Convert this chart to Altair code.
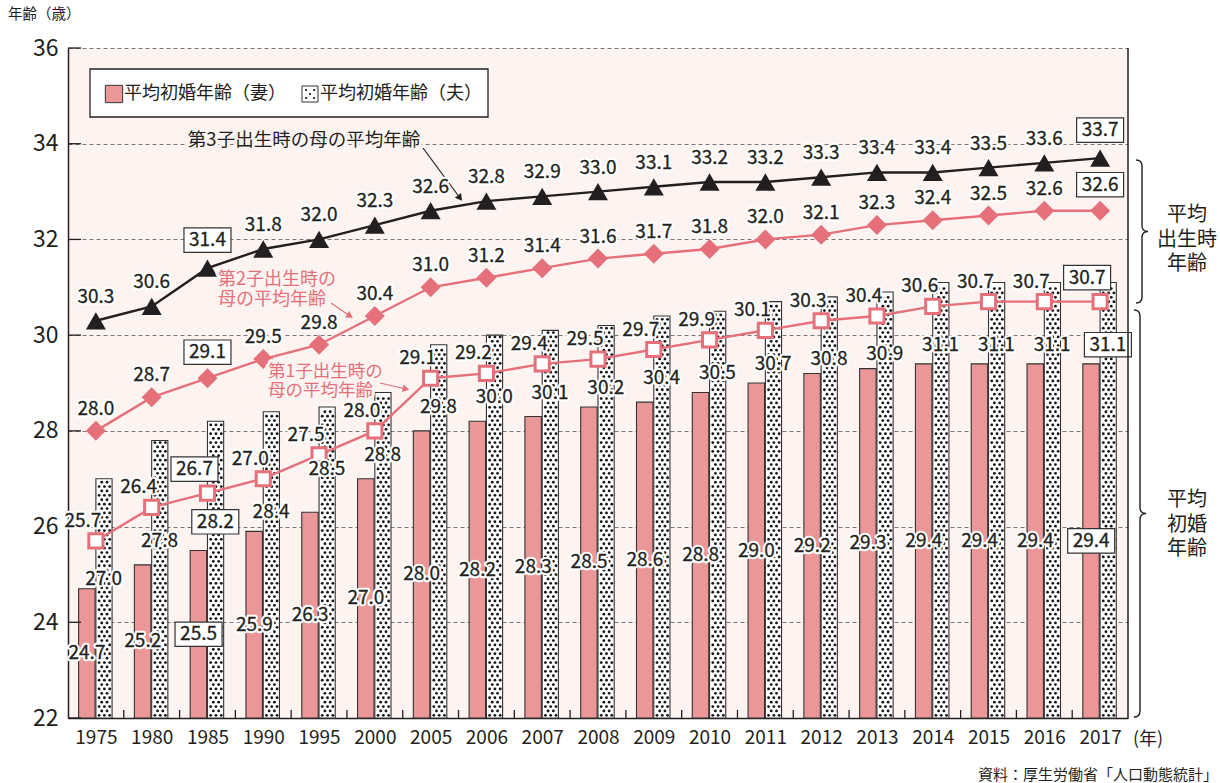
import altair as alt
import pandas as pd

# ---------------- data ----------------
years = ["1975", "1980", "1985", "1990", "1995", "2000", "2005", "2006", "2007", "2008",
         "2009", "2010", "2011", "2012", "2013", "2014", "2015", "2016", "2017"]
wife = [24.7, 25.2, 25.5, 25.9, 26.3, 27.0, 28.0, 28.2, 28.3, 28.5,
        28.6, 28.8, 29.0, 29.2, 29.3, 29.4, 29.4, 29.4, 29.4]
husband = [27.0, 27.8, 28.2, 28.4, 28.5, 28.8, 29.8, 30.0, 30.1, 30.2,
           30.4, 30.5, 30.7, 30.8, 30.9, 31.1, 31.1, 31.1, 31.1]
first_child = [25.7, 26.4, 26.7, 27.0, 27.5, 28.0, 29.1, 29.2, 29.4, 29.5,
               29.7, 29.9, 30.1, 30.3, 30.4, 30.6, 30.7, 30.7, 30.7]
second_child = [28.0, 28.7, 29.1, 29.5, 29.8, 30.4, 31.0, 31.2, 31.4, 31.6,
                31.7, 31.8, 32.0, 32.1, 32.3, 32.4, 32.5, 32.6, 32.6]
third_child = [30.3, 30.6, 31.4, 31.8, 32.0, 32.3, 32.6, 32.8, 32.9, 33.0,
               33.1, 33.2, 33.2, 33.3, 33.4, 33.4, 33.5, 33.6, 33.7]
boxed_years = ["1985", "2017"]
y_ticks = [22, 24, 26, 28, 30, 32, 34, 36]

# ---------------- layout / style ----------------
FONT = "Noto Sans CJK JP"
DARK = "#231f20"
PINK = "#e6707a"
PINK_BAR = "#ec9797"
BG = "#fdf4f2"
W, H = 1060, 670
Y0, Y1 = 22, 36
n = len(years)
UX = W / n
UY = H / (Y1 - Y0)
LFS = 19  # value label font size

xs = alt.Scale(domain=[-0.5, n - 0.5], nice=False, zero=False)
ys = alt.Scale(domain=[Y0, Y1], nice=False, zero=False)
year_arr = "[" + ",".join(f"'{y}'" for y in years) + "]"
xaxis = alt.Axis(values=list(range(n)), labelExpr=f"{year_arr}[datum.value]", title=None,
                 grid=False, ticks=False, domain=True, domainColor=DARK, domainWidth=1.5,
                 labelFont=FONT, labelFontSize=19, labelColor=DARK, labelPadding=10)
yaxis = alt.Axis(values=y_ticks, title=None, grid=True, gridDash=[4, 3], gridColor="#777",
                 gridWidth=1, ticks=False, domain=True, domainColor=DARK, domainWidth=1.5,
                 labelFont=FONT, labelFontSize=23, labelColor=DARK, labelPadding=10)


def X(field):
    return alt.X(field, type="quantitative", scale=xs, axis=xaxis)


def Y(field):
    return alt.Y(field, type="quantitative", scale=ys, axis=yaxis)


df = pd.DataFrame({"i": list(range(n)), "year": years, "wife": wife, "husband": husband,
                   "c1": first_child, "c2": second_child, "c3": third_child})

# bars
wife_bars = alt.Chart(df).transform_calculate(
    xa="datum.i - 0.31", xb="datum.i - 0.015"
).mark_bar(fill=PINK_BAR, stroke="#333", strokeWidth=1.1).encode(
    x=X("xa"), x2="xb:Q", y=Y("wife"), y2=alt.datum(Y0))
hus_bars = alt.Chart(df).transform_calculate(
    xa="datum.i", xb="datum.i + 0.29"
).mark_bar(fill="white", stroke="#333", strokeWidth=1.1).encode(
    x=X("xa"), x2="xb:Q", y=Y("husband"), y2=alt.datum(Y0))

# dot pattern of husband bars (derived from husband values)
dot_rows = []
step = 4.4 / UY
for i, v in enumerate(husband):
    k = 0
    yy = Y0 + step * 0.6
    while yy < v - step * 0.4:
        offs = [3.2, 8.5, 13.8] if k % 2 == 0 else [5.85, 11.15]
        for o in offs:
            dot_rows.append({"dx": i + o / UX, "dy": yy})
        yy += step
        k += 1
dots = alt.Chart(pd.DataFrame(dot_rows)).mark_circle(size=8, color="#151515", opacity=1).encode(
    x=X("dx"), y=Y("dy"))

# lines
line3 = alt.Chart(df).mark_line(color=DARK, strokeWidth=2.4).encode(x=X("i"), y=Y("c3"))
pt3 = alt.Chart(df).mark_point(shape="triangle-up", filled=True, size=400, color=DARK, opacity=1).encode(
    x=X("i"), y=Y("c3"))
line2 = alt.Chart(df).mark_line(color=PINK, strokeWidth=2.4).encode(x=X("i"), y=Y("c2"))
pt2 = alt.Chart(df).mark_point(shape="diamond", filled=True, size=400, color=PINK, opacity=1).encode(
    x=X("i"), y=Y("c2"))
line1 = alt.Chart(df).mark_line(color=PINK, strokeWidth=2.4).encode(x=X("i"), y=Y("c1"))
pt1 = alt.Chart(df).mark_point(shape="square", filled=True, fill="white", stroke=PINK, strokeWidth=3,
                               size=200, opacity=1).encode(x=X("i"), y=Y("c1"))

# value labels
rows = []
for i in range(n):
    bx = years[i] in boxed_years
    extra = 4 / UY if bx else 0
    rows.append(dict(text=f"{third_child[i]:.1f}", lx=i, ly=third_child[i] + 24 / UY + extra, boxed=bx))
    rows.append(dict(text=f"{second_child[i]:.1f}", lx=i, ly=second_child[i] + 22 / UY + extra, boxed=bx))
    rows.append(dict(text=f"{first_child[i]:.1f}", lx=i - 13 / UX, ly=first_child[i] + 20 / UY + extra, boxed=bx))
    rows.append(dict(text=f"{wife[i]:.1f}", lx=i - 0.16, ly=(Y0 + wife[i]) / 2, boxed=bx))
    hy = husband[i] - 1.3
    if abs(hy - first_child[i]) < 0.25:
        hy = husband[i] - 2.1
    rows.append(dict(text=f"{husband[i]:.1f}", lx=i + 0.14, ly=hy, boxed=bx))
lab = pd.DataFrame(rows)

BOX = "M-1,-0.52H1V0.52H-1Z"
boxes = alt.Chart(lab).transform_filter("datum.boxed").mark_point(
    shape=BOX, size=47 * 47, filled=True, fill="white", stroke="#333", strokeWidth=1.2, opacity=1
).encode(x=X("lx"), y=Y("ly"))
halo = alt.Chart(lab).mark_text(font=FONT, fontSize=LFS, fill="white", stroke="white", strokeWidth=4.5,
                                strokeJoin="round", baseline="middle").encode(
    x=X("lx"), y=Y("ly"), text="text:N")
labels = alt.Chart(lab).mark_text(font=FONT, fontSize=LFS, fill=DARK, stroke=DARK, strokeWidth=0.3,
                                  baseline="middle").encode(
    x=X("lx"), y=Y("ly"), text="text:N")

# inward ticks
ytick = alt.Chart(pd.DataFrame({"t": y_ticks})).mark_rule(color=DARK, strokeWidth=1.3).encode(
    y=Y("t"), x=alt.value(0), x2=alt.value(13))
xtick = alt.Chart(pd.DataFrame({"b": [i + 0.5 for i in range(n - 1)]})).mark_rule(
    color=DARK, strokeWidth=1.3).encode(x=X("b"), y=alt.value(H), y2=alt.value(H - 8))

one = pd.DataFrame({"a": [0]})


def T(text, x, y, halo_col=None, **kw):
    layers = []
    if halo_col:
        hk = dict(kw)
        hk["fill"] = halo_col
        layers.append(alt.Chart(one).mark_text(text=text, font=FONT, stroke=halo_col, strokeWidth=6,
                                               strokeJoin="round", **hk).encode(
            x=alt.value(x), y=alt.value(y)))
    layers.append(alt.Chart(one).mark_text(text=text, font=FONT, **kw).encode(
        x=alt.value(x), y=alt.value(y)))
    return layers


def rule(x1, y1, x2, y2, color, w=1.2):
    return alt.Chart(one).mark_rule(color=color, strokeWidth=w).encode(
        x=alt.value(x1), y=alt.value(y1), x2=alt.value(x2), y2=alt.value(y2))


def head(x, y, ang, color):
    return alt.Chart(one).mark_point(shape="triangle-up", filled=True, size=60, angle=ang,
                                     color=color, opacity=1).encode(x=alt.value(x), y=alt.value(y))


ann = []
ann += T("第3子出生時の母の平均年齢", 236, 92, halo_col=BG, fontSize=18.5, fill=DARK,
         align="center", baseline="middle")
ann += [rule(355, 100, 392, 150, DARK, 1.2), head(392, 150, 143, DARK)]
ann += T(["第2子出生時の", "母の平均年齢"], 150, 232, halo_col=BG, fontSize=18, fill=PINK,
         align="left", baseline="middle", lineHeight=20)
ann += [rule(263, 255, 282, 268, PINK, 1.2), head(282, 268, 124, PINK)]
ann += T(["第1子出生時の", "母の平均年齢"], 200, 324, halo_col=BG, fontSize=17.5, fill=PINK,
         align="left", baseline="middle", lineHeight=19)
ann += [rule(312, 335, 338, 341, PINK, 1.2), head(338, 341, 104, PINK)]

# legend (manual)
leg = [alt.Chart(one).mark_rect(fill="white", stroke=DARK, strokeWidth=1.3).encode(
    x=alt.value(22), x2=alt.value(420), y=alt.value(21), y2=alt.value(69))]
leg.append(alt.Chart(one).mark_point(shape="square", filled=True, fill=PINK_BAR, stroke="#333",
                                     strokeWidth=1, size=300, opacity=1).encode(
    x=alt.value(46), y=alt.value(46)))
leg.append(alt.Chart(one).mark_point(shape="square", filled=True, fill="white", stroke="#333",
                                     strokeWidth=1, size=256, opacity=1).encode(
    x=alt.value(242), y=alt.value(46)))
DOTS = "M-0.5,-0.5h0.02M0.5,-0.5h0.02M0,0h0.02M-0.5,0.5h0.02M0.5,0.5h0.02"
leg.append(alt.Chart(one).mark_point(shape=DOTS, filled=False, stroke="#222", strokeWidth=2.2,
                                     strokeCap="round", size=256, opacity=1).encode(
    x=alt.value(242), y=alt.value(46)))
leg += T("平均初婚年齢（妻）", 56, 46, fontSize=18, fill=DARK, align="left", baseline="middle")
leg += T("平均初婚年齢（夫）", 252, 46, fontSize=18, fill=DARK, align="left", baseline="middle")

# outside texts / braces / frame
BR1 = "M-0.084,-1Q0,-1 0,-0.916L0,-0.084Q0,0 0.084,0Q0,0 0,0.084L0,0.916Q0,1 -0.084,1"
BR2 = "M-0.03,-1Q0,-1 0,-0.97L0,-0.03Q0,0 0.03,0Q0,0 0,0.03L0,0.97Q0,1 -0.03,1"
side = [
    alt.Chart(one).mark_point(shape=BR1, size=143 * 143, filled=False, stroke=DARK, strokeWidth=1.4,
                              opacity=1).encode(x=alt.value(1074), y=alt.value(183.5)),
    alt.Chart(one).mark_point(shape=BR2, size=407 * 407, filled=False, stroke=DARK, strokeWidth=1.4,
                              opacity=1).encode(x=alt.value(1072), y=alt.value(465.5)),
]
side += T(["平均", "出生時", "年齢"], 1119, 167, fontSize=20, fill=DARK, align="center",
          baseline="middle", lineHeight=24.5)
side += T(["平均", "初婚", "年齢"], 1119, 452, fontSize=20, fill=DARK, align="center",
          baseline="middle", lineHeight=24.5)
side += T("年齢（歳）", -60, -33, fontSize=14.5, fill=DARK, align="left", baseline="middle")
side += T("(年)", 1065, 692, fontSize=18, fill=DARK, align="left", baseline="middle")
side += T("資料：厚生労働省「人口動態統計」", 1150, 727, fontSize=15, fill=DARK, align="right",
          baseline="middle")
side.append(rule(W, 0, W, H, DARK, 1.5))

chart = alt.layer(
    wife_bars, hus_bars, dots, ytick, xtick,
    line3, line2, line1, pt3, pt2, pt1,
    *ann, boxes, halo, labels, *leg, *side
).properties(
    width=W, height=H,
    padding={"left": 68, "top": 48, "right": 92, "bottom": 65},
    autosize=alt.AutoSizeParams(type="none"),
    background="white",
).configure_view(fill=BG, strokeWidth=0)

chart.save("out.html", embed_options={"renderer": "svg", "actions": False})
